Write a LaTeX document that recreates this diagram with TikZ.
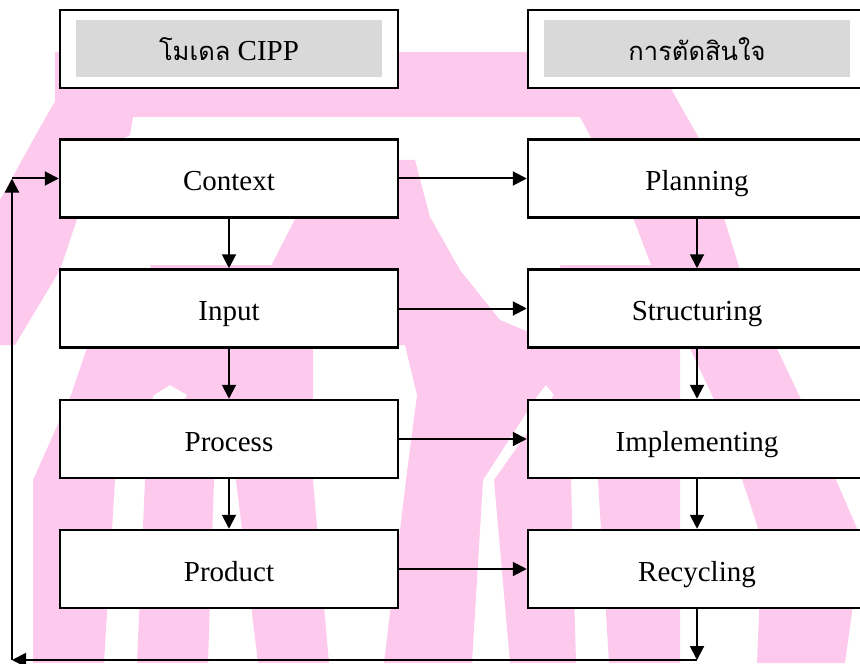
\documentclass[tikz,border=0pt]{standalone}
\usepackage{fontspec}
\setmainfont{Liberation Serif}
\newfontfamily\thaifont[Script=Thai,Scale=0.88]{Loma}
\usetikzlibrary{arrows.meta}
\definecolor{wmpink}{RGB}{253,202,238}
\definecolor{headgray}{RGB}{217,217,217}
\newcommand\txt{\fontsize{14.5}{17}\selectfont}

\begin{document}
\begin{tikzpicture}[x=0.5pt,y=-0.5pt,
  box/.style={draw,line width=1.25pt,fill=white,minimum width=169pt,
    minimum height=39pt,inner sep=0pt,text height=12.5pt,text depth=0.5pt,
    font=\txt},
  headfill/.style={fill=headgray,minimum width=153pt,minimum height=28.5pt,
    inner sep=0pt,text height=12.5pt,text depth=0.5pt,font=\txt},
  flow/.style={line width=1pt,-{Triangle[length=7pt,width=7pt]}}]
\useasboundingbox (0,0) rectangle (860,663);
% watermark
\fill[wmpink] (55,52) rectangle (650,117);
\fill[wmpink] (63,88) -- (133,117) -- (130,135) -- (100,150) -- (80,210)
  -- (60,270) -- (15,345) -- (0,345) -- (0,200) -- (33,140) -- (50,110) -- cycle;
\fill[wmpink] (560,52) -- (650,52) -- (700,140) -- (740,270) -- (806,410)
  -- (862,540) -- (845,663) -- (757,663) -- (762,540) -- (719,410)
  -- (653,270) -- (630,210) -- (580,117) -- cycle;
\fill[wmpink] (300,160) -- (415,160) -- (430,217) -- (460,270) -- (500,320)
  -- (560,345) -- (640,345) -- (640,395) -- (554,395) -- (546,385)
  -- (538,395) -- (417,395) -- (405,345) -- (298,345) -- (275,395)
  -- (187,395) -- (170,385) -- (154,395) -- (71,395) -- (88,345)
  -- (269,270) -- (296,217) -- cycle;
\fill[wmpink] (71,395) -- (154,395) -- (115,480) -- (104,663) -- (33,663) -- (33,480) -- cycle;
\fill[wmpink] (187,395) -- (275,395) -- (214,480) -- (208,663) -- (137,663) -- (145,480) -- cycle;
\fill[wmpink] (150,265) -- (313,265) -- (313,480) -- (329,663) -- (258,663) -- (236,480) -- cycle;
\fill[wmpink] (417,395) -- (538,395) -- (483,480) -- (472,663) -- (384,663) -- (406,480) -- cycle;
\fill[wmpink] (554,395) -- (636,395) -- (571,480) -- (576,663) -- (510,663) -- (494,480) -- cycle;
\fill[wmpink] (560,265) -- (680,265) -- (680,663) -- (609,663) -- (598,480) -- cycle;
% headings
\node[box] (A) at (229,49) {};
\node[headfill] (At) at (A) {{\thaifont โมเดล} CIPP};
\node[box] (B) at (697,49) {};
\node[headfill] (Bt) at (B) {\thaifont การตัดสินใจ};
% CIPP
\node[box] (C) at (229,178.5) {Context};
\node[box] (I) at (229,308.5) {Input};
\node[box] (P) at (229,439) {Process};
\node[box] (D) at (229,569) {Product};
% decisions
\node[box] (L) at (697,178.5) {Planning};
\node[box] (S) at (697,308.5) {Structuring};
\node[box] (M) at (697,439) {Implementing};
\node[box] (R) at (697,569) {Recycling};
\draw[flow] (C) -- (I);
\draw[flow] (I) -- (P);
\draw[flow] (P) -- (D);
\draw[flow] (L) -- (S);
\draw[flow] (S) -- (M);
\draw[flow] (M) -- (R);
\draw[flow] (C) -- (L);
\draw[flow] (I) -- (S);
\draw[flow] (P) -- (M);
\draw[flow] (D) -- (R);
% loop back
\coordinate (ll) at (12,660);
\coordinate (lr) at (R.south |- ll);
\coordinate (ul) at (ll |- C.west);
\draw[flow] (R) -- (lr);
\draw[flow] (lr) -- (ll);
\draw[flow] (ll) -- (ul);
\draw[flow] (ul) -- (C);
\end{tikzpicture}
\end{document}
